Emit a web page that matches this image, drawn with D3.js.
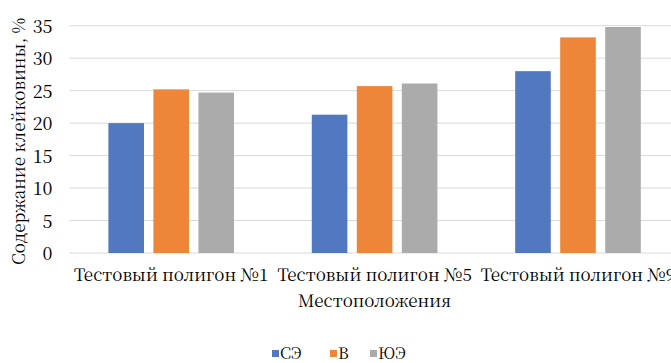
<!DOCTYPE html>
<html><head><meta charset="utf-8">
<script src="https://cdn.jsdelivr.net/npm/d3@7"></script>
<style>body{margin:0;background:#fff;overflow:hidden}svg{display:block}text{font-family:"Noto Serif CJK SC","DejaVu Serif",serif;fill:#000}</style>
</head><body><svg id="c" width="671" height="363"></svg>
<script>
const categories = ["Тестовый полигон №1", "Тестовый полигон №5", "Тестовый полигон №9"];
const seriesNames = ["СЭ", "В", "ЮЭ"];
const seriesSE = [20.0, 21.3, 28.0];
const seriesV = [25.2, 25.7, 33.2];
const seriesUE = [24.7, 26.1, 34.8];
const yTicks = [0, 5, 10, 15, 20, 25, 30, 35];
const colors = ["#5279BF", "#EE8639", "#ABABAB"];

const FONT = '"Noto Serif CJK SC","DejaVu Serif",serif';
const FS = 17;
const allSeries = [seriesSE, seriesV, seriesUE];
const svg = d3.select("#c");
const mLeft = 69.5, mRight = 679.7, mTop = 25.7, mBottom = 253;

const x = d3.scaleBand().domain(categories).range([mLeft, mRight]).padding(0);
const xs = d3.scaleBand().domain(seriesNames).range([0, x.bandwidth()]).paddingInner(0.209).paddingOuter(0.864);
const y = d3.scaleLinear().domain([0, 35]).range([mBottom, mTop]);

svg.append("g").selectAll("line").data(yTicks).join("line")
  .attr("x1", mLeft).attr("x2", mRight)
  .attr("y1", d => y(d)).attr("y2", d => y(d))
  .attr("stroke", "#d9d9d9").attr("stroke-width", 1);

const yAxis = d3.axisLeft(y).tickValues(yTicks).tickSize(0).tickPadding(0);
const ga = svg.append("g").attr("transform", `translate(${mLeft - 17},0)`).call(yAxis);
ga.attr("font-family", FONT);
ga.select(".domain").remove();
ga.selectAll("text").attr("font-size", FS + 1).attr("font-family", FONT).attr("fill", "#000").attr("dy", "0.36em");

const g = svg.append("g");
categories.forEach((c, i) => {
  allSeries.forEach((s, j) => {
    g.append("rect")
      .attr("x", x(c) + xs(seriesNames[j]))
      .attr("y", y(s[i]))
      .attr("width", xs.bandwidth())
      .attr("height", y(0) - y(s[i]))
      .attr("fill", colors[j]);
  });
});

const xAxis = d3.axisBottom(x).tickSize(0).tickPadding(0);
const gx = svg.append("g").attr("transform", `translate(0,${mBottom + 15})`).call(xAxis);
gx.attr("font-family", FONT);
gx.select(".domain").remove();
gx.selectAll("text").attr("font-size", FS).attr("font-family", FONT).attr("fill", "#000").attr("dy", "0.75em");

svg.append("text").attr("x", (mLeft + mRight) / 2).attr("y", 307).attr("text-anchor", "middle")
  .attr("font-size", FS).text("Местоположения");
svg.append("text").attr("transform", `translate(25,${(mTop + mBottom) / 2 + 2}) rotate(-90)`)
  .attr("text-anchor", "middle").attr("font-size", FS).text("Содержание клейковины, %");

const leg = svg.append("g");
const legX = [272, 330, 370];
seriesNames.forEach((n, j) => {
  leg.append("rect").attr("x", legX[j]).attr("y", 350).attr("width", 7).attr("height", 7).attr("fill", colors[j]);
  leg.append("text").attr("x", legX[j] + 8).attr("y", 359).attr("font-size", 16).attr("font-family", FONT).text(n);
});
</script></body></html>
